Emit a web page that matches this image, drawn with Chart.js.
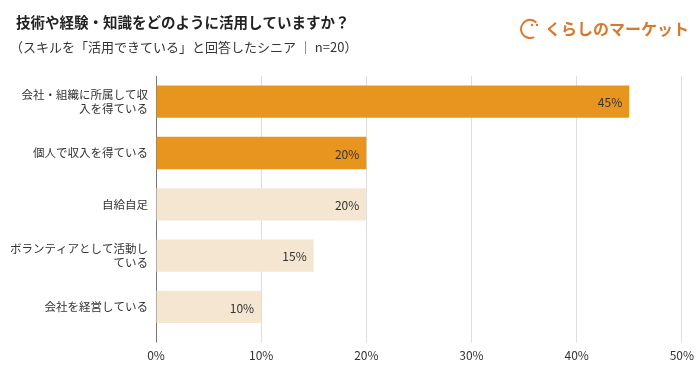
<!DOCTYPE html>
<html lang="ja">
<head>
<meta charset="UTF-8">
<title>技術や経験・知識をどのように活用していますか？</title>
<style>
  body { margin: 0; padding: 0; background: #fff; }
  #wrap { width: 700px; height: 374px; }
</style>
</head>
<body>
<div id="wrap"><canvas id="chart" width="700" height="374"></canvas></div>
<script src="https://cdn.jsdelivr.net/npm/chart.js"></script>
<script>
  const categories = [
    ['会社・組織に所属して収', '入を得ている'],
    '個人で収入を得ている',
    '自給自足',
    ['ボランティアとして活動し', 'ている'],
    '会社を経営している'
  ];
  const values = [45, 20, 20, 15, 10];
  const barColors = ['#E8951F', '#E8951F', '#F5E6D2', '#F5E6D2', '#F5E6D2'];
  const tickLabels = ['0%', '10%', '20%', '30%', '40%', '50%'];

  const titleText = '技術や経験・知識をどのように活用していますか？';
  const subText = '（スキルを「活用できている」と回答したシニア ｜ n=20）';
  const logoText = 'くらしのマーケット';
  const FONT = '"Noto Sans CJK JP", "Noto Sans", sans-serif';

  // header text and logo
  const header = {
    id: 'header',
    afterDraw(chart) {
      const c = chart.ctx;
      c.save();
      c.fillStyle = '#222';
      c.textBaseline = 'middle';
      c.textAlign = 'left';
      c.font = 'bold 14.5px ' + FONT;
      c.fillText(titleText, 16, 22);
      c.font = '13px ' + FONT;
      c.fillStyle = '#333';
      c.fillText(subText, 10, 47);

      // logo
      c.strokeStyle = '#D9782A';
      c.lineWidth = 2;
      c.beginPath();
      c.arc(530, 29, 9, 0.35 * Math.PI, 1.75 * Math.PI);
      c.stroke();
      c.fillStyle = '#D9782A';
      c.beginPath(); c.arc(532, 25, 1.2, 0, 2 * Math.PI); c.fill();
      c.beginPath(); c.arc(537, 25, 1.2, 0, 2 * Math.PI); c.fill();
      c.font = 'bold 16px ' + FONT;
      c.fillText(logoText, 545, 29);
      c.restore();
    }
  };

  // value labels at bar ends
  const valueLabels = {
    id: 'valueLabels',
    afterDatasetsDraw(chart) {
      const c = chart.ctx;
      const meta = chart.getDatasetMeta(0);
      c.save();
      c.font = '12px ' + FONT;
      c.fillStyle = '#333';
      c.textAlign = 'right';
      c.textBaseline = 'middle';
      meta.data.forEach((bar, i) => {
        c.fillText(values[i] + '%', bar.x - 7, bar.y + 1);
      });
      c.restore();
    }
  };

  new Chart(document.getElementById('chart'), {
    type: 'bar',
    data: {
      labels: categories,
      datasets: [{
        data: values,
        backgroundColor: barColors,
        borderWidth: 0,
        categoryPercentage: 1,
        barPercentage: 0.63
      }]
    },
    options: {
      indexAxis: 'y',
      responsive: false,
      animation: false,
      layout: { padding: { top: 76, right: 17, bottom: 5, left: 0 } },
      plugins: { legend: { display: false }, tooltip: { enabled: false } },
      scales: {
        x: {
          min: 0,
          max: 50,
          ticks: {
            stepSize: 10,
            padding: 6,
            color: '#333',
            font: { family: FONT, size: 12 },
            callback: (v, i) => tickLabels[i]
          },
          grid: {
            color: (ctx) => ctx.index === 0 ? '#777' : '#ddd',
            tickLength: 10,
            drawTicks: true
          },
          border: { display: false }
        },
        y: {
          afterFit: (s) => { s.width = 156; },
          ticks: {
            padding: 0,
            color: '#333',
            font: { family: FONT, size: 11.5 },
            crossAlign: 'near'
          },
          grid: { display: false },
          border: { display: true, color: '#777', width: 1 }
        }
      }
    },
    plugins: [header, valueLabels]
  });
</script>
</body>
</html>
